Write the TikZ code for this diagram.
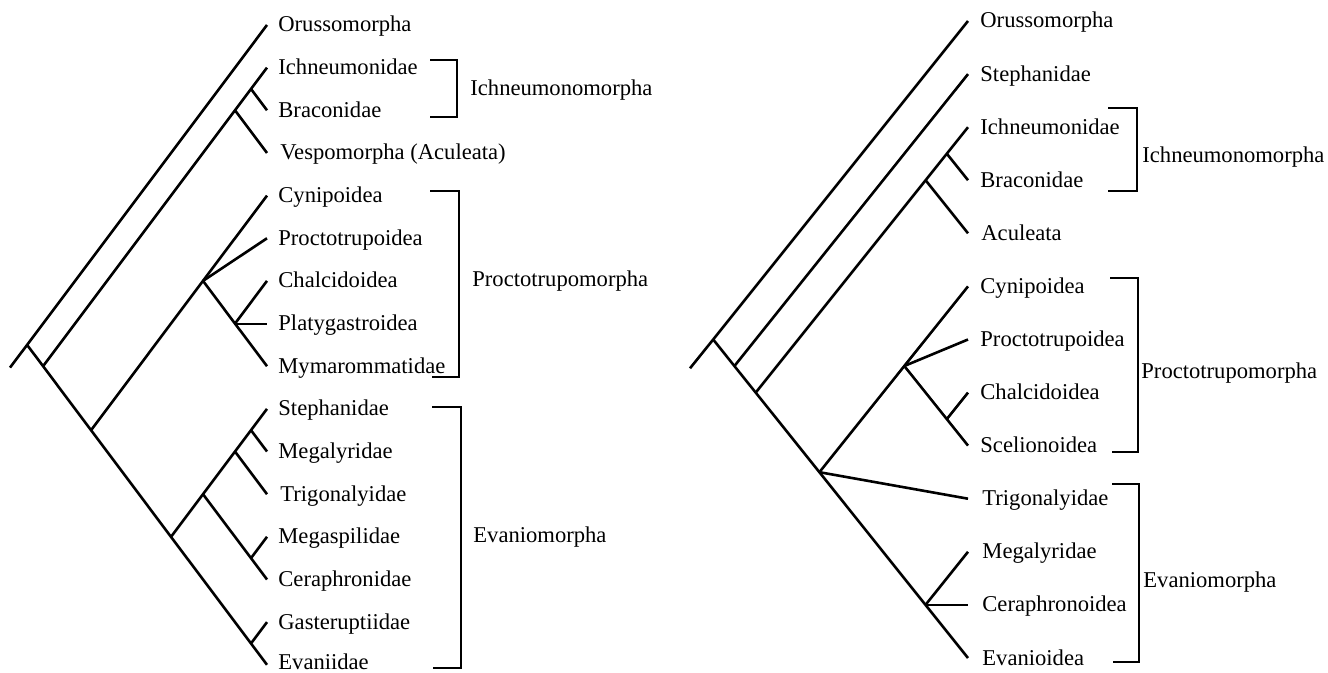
\documentclass[tikz,border=0pt]{standalone}
\usepackage{fontspec}
\setmainfont{Liberation Serif}
\begin{document}
\begin{tikzpicture}[x=0.5pt,y=-0.5pt,
  leaf/.style={anchor=base west, inner sep=0pt, font=\fontsize{11.3}{13}\selectfont},
  grp/.style={anchor=base west, inner sep=0pt, font=\fontsize{11.3}{13}\selectfont},
  branch/.style={line width=1.3pt, line join=round},
  thinbranch/.style={line width=1.0pt},
  bracket/.style={line width=1.2pt, line join=miter}]
\useasboundingbox (0,0) rectangle (1328,673);

% ---------------- LEFT TREE ----------------
% tips
\coordinate (a0) at (267,25);
\coordinate (a1) at (267,67.65);
\coordinate (a2) at (267,110.3);
\coordinate (a3) at (267,153);
\coordinate (a4) at (267,195.6);
\coordinate (a5) at (267,238.3);
\coordinate (a6) at (267,280.9);
\coordinate (a7) at (267,323.6);
\coordinate (a8) at (267,366.2);
\coordinate (a9) at (267,408.9);
\coordinate (a10) at (267,451.5);
\coordinate (a11) at (267,494.2);
\coordinate (a12) at (267,536.8);
\coordinate (a13) at (267,579.5);
\coordinate (a14) at (267,622.1);
\coordinate (a15) at (267,664.8);
% labels
\node[leaf] (la0) at (278,32) {Orussomorpha};
\node[leaf] (la1) at (278,74.65) {Ichneumonidae};
\node[leaf] (la2) at (278,117.3) {Braconidae};
\node[leaf] (la3) at (280,160) {Vespomorpha (Aculeata)};
\node[leaf] (la4) at (278,202.6) {Cynipoidea};
\node[leaf] (la5) at (278,245.3) {Proctotrupoidea};
\node[leaf] (la6) at (278,287.9) {Chalcidoidea};
\node[leaf] (la7) at (278,330.6) {Platygastroidea};
\node[leaf] (la8) at (278,373.2) {Mymarommatidae};
\node[leaf] (la9) at (278,415.9) {Stephanidae};
\node[leaf] (la10) at (278,458.5) {Megalyridae};
\node[leaf] (la11) at (280,501.2) {Trigonalyidae};
\node[leaf] (la12) at (278,543.8) {Megaspilidae};
\node[leaf] (la13) at (278,586.5) {Ceraphronidae};
\node[leaf] (la14) at (278,629.1) {Gasteruptiidae};
\node[leaf] (la15) at (278,669.8) {Evaniidae};
% internal nodes
\coordinate (aS) at (10,367.6);
\coordinate (aR) at (27.1,344.9);
\coordinate (aN2) at (43.1,366.2);
\coordinate (aIBV) at (235,110.3);
\coordinate (aIB) at (251,88.98);
\coordinate (aN3) at (91.05,430.2);
\coordinate (aPr) at (203,280.9);
\coordinate (aCPM) at (235,323.6);
\coordinate (aEv) at (171,536.85);
\coordinate (aSC) at (203,494.2);
\coordinate (aST) at (235,451.55);
\coordinate (aSM) at (251,430.2);
\coordinate (aMC) at (251,558.15);
\coordinate (aGE) at (251,643.45);
% branches
\draw[branch] (aS) -- (aR) -- (a0);
\draw[branch] (aR) -- (aN2) -- (aN3) -- (aEv) -- (aGE) -- (a15);
\draw[branch] (aN2) -- (aIBV) -- (aIB) -- (a1);
\draw[branch] (aIB) -- (a2);
\draw[branch] (aIBV) -- (a3);
\draw[branch] (aN3) -- (aPr) -- (a4);
\draw[branch] (aPr) -- (a5);
\draw[branch] (aPr) -- (aCPM) -- (a8);
\draw[branch] (aCPM) -- (a6);
\draw[thinbranch] (aCPM) -- (a7);
\draw[branch] (aEv) -- (aSC) -- (aST) -- (aSM) -- (a9);
\draw[branch] (aSM) -- (a10);
\draw[branch] (aST) -- (a11);
\draw[branch] (aSC) -- (aMC) -- (a13);
\draw[branch] (aMC) -- (a12);
\draw[branch] (aGE) -- (a14);
% brackets
\draw[bracket] (430,60) -- (457,60) -- (457,117) -- (430,117);
\node[grp] (ga1) at (470,95.5) {Ichneumonomorpha};
\draw[bracket] (430,191) -- (459,191) -- (459,377) -- (432,377);
\node[grp] (ga2) at (472,287) {Proctotrupomorpha};
\draw[bracket] (432,407) -- (461,407) -- (461,668) -- (433,668);
\node[grp] (ga3) at (473,542) {Evaniomorpha};

% ---------------- RIGHT TREE ----------------
\coordinate (b0) at (968,21);
\coordinate (b1) at (968,74.1);
\coordinate (b2) at (968,127.2);
\coordinate (b3) at (968,180.2);
\coordinate (b4) at (968,233.3);
\coordinate (b5) at (968,286.4);
\coordinate (b6) at (968,339.5);
\coordinate (b7) at (968,392.6);
\coordinate (b8) at (968,445.6);
\coordinate (b9) at (968,498.7);
\coordinate (b10) at (968,551.8);
\coordinate (b11) at (968,604.9);
\coordinate (b12) at (968,658);
\node[leaf] (lb0) at (980,28) {Orussomorpha};
\node[leaf] (lb1) at (980,81.1) {Stephanidae};
\node[leaf] (lb2) at (980,134.2) {Ichneumonidae};
\node[leaf] (lb3) at (980,187.2) {Braconidae};
\node[leaf] (lb4) at (981,240.3) {Aculeata};
\node[leaf] (lb5) at (980,293.4) {Cynipoidea};
\node[leaf] (lb6) at (980,346.5) {Proctotrupoidea};
\node[leaf] (lb7) at (980,399.6) {Chalcidoidea};
\node[leaf] (lb8) at (980,452.6) {Scelionoidea};
\node[leaf] (lb9) at (982,505.7) {Trigonalyidae};
\node[leaf] (lb10) at (982,558.8) {Megalyridae};
\node[leaf] (lb11) at (982,611.9) {Ceraphronoidea};
\node[leaf] (lb12) at (982,665) {Evanioidea};
\coordinate (bS) at (690,368.3);
\coordinate (bR) at (713.2,339.5);
\coordinate (bN2) at (734.4,366.05);
\coordinate (bN3) at (755.7,392.6);
\coordinate (bIBA) at (925.6,180.25);
\coordinate (bIB) at (946.8,153.7);
\coordinate (bN4) at (819.4,472.2);
\coordinate (bPr) at (904.3,366);
\coordinate (bCS) at (946.8,419.1);
\coordinate (bEv) at (925.5,604.9);
\draw[branch] (bS) -- (bR) -- (b0);
\draw[branch] (bR) -- (bN2) -- (bN3) -- (bN4) -- (bEv) -- (b12);
\draw[branch] (bN2) -- (b1);
\draw[branch] (bN3) -- (bIBA) -- (bIB) -- (b2);
\draw[branch] (bIB) -- (b3);
\draw[branch] (bIBA) -- (b4);
\draw[branch] (bN4) -- (bPr) -- (b5);
\draw[branch] (bPr) -- (b6);
\draw[branch] (bPr) -- (bCS) -- (b8);
\draw[branch] (bCS) -- (b7);
\draw[branch] (bN4) -- (b9);
\draw[branch] (bEv) -- (b10);
\draw[thinbranch] (bEv) -- (b11);
% brackets
\draw[bracket] (1108,108) -- (1137,108) -- (1137,191) -- (1108,191);
\node[grp] (gb1) at (1142,163) {Ichneumonomorpha};
\draw[bracket] (1110,278) -- (1138,278) -- (1138,452) -- (1112,452);
\node[grp] (gb2) at (1141,379) {Proctotrupomorpha};
\draw[bracket] (1112,484) -- (1139,484) -- (1139,662) -- (1113,662);
\node[grp] (gb3) at (1143,587) {Evaniomorpha};
\end{tikzpicture}
\end{document}
